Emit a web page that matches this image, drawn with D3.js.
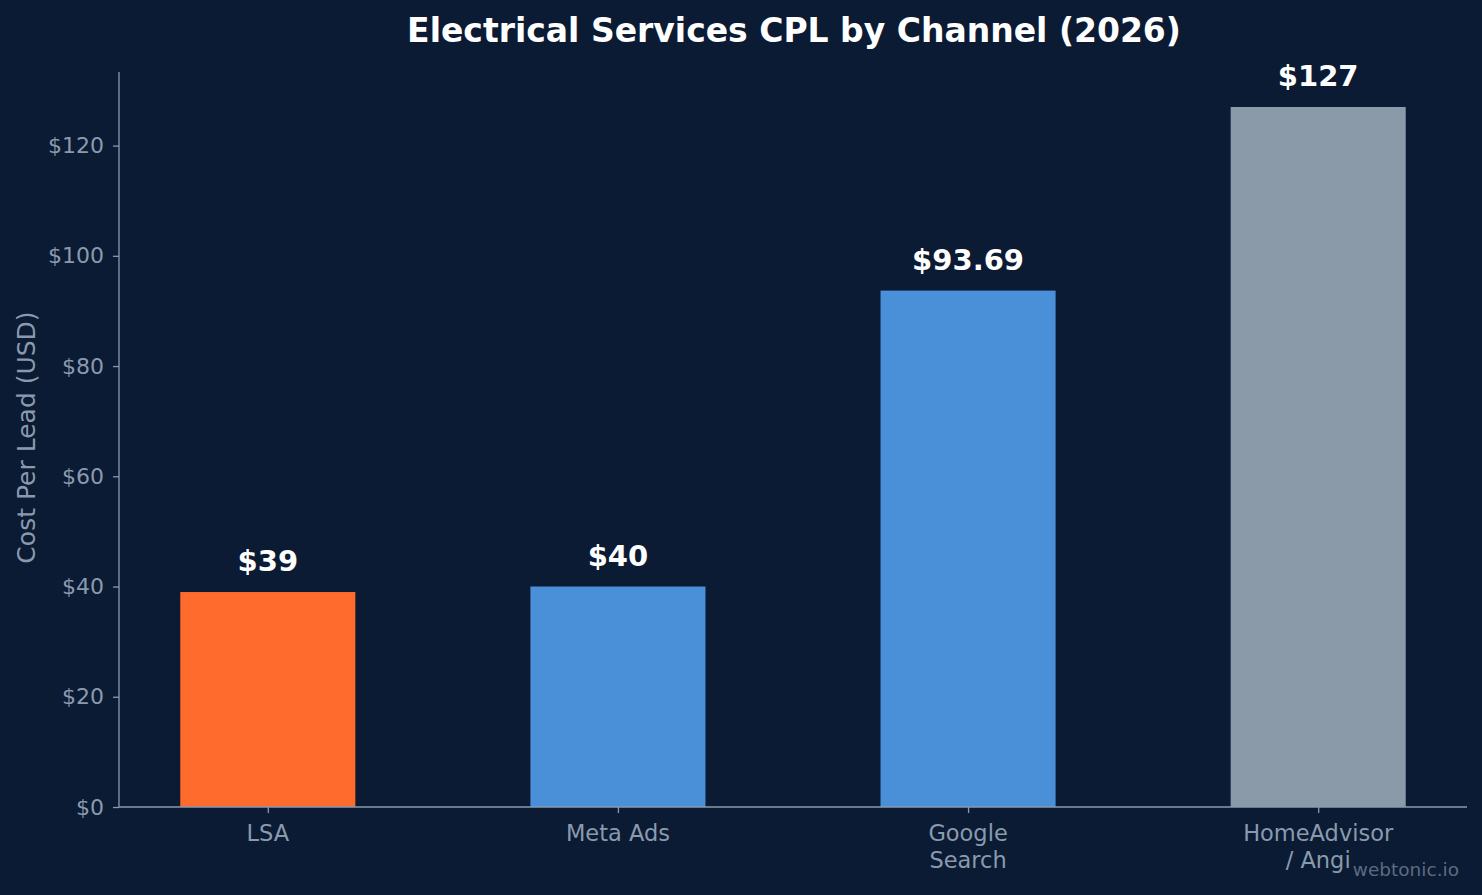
<!DOCTYPE html>
<html>
<head>
<meta charset="utf-8">
<script src="https://cdn.jsdelivr.net/npm/d3@7"></script>
<style>
    body { margin: 0; background: #0b1b33; }
    svg { display: block; font-family: "DejaVu Sans", sans-serif; }
</style>
</head>
<body>
<svg width="1482" height="895"></svg>
<script>
let channels = ['LSA', 'Meta Ads', 'Google\nSearch', 'HomeAdvisor\n/ Angi']
let cpl = [39, 40, 93.69, 127]
let valueLabels = ['$39', '$40', '$93.69', '$127']
let barColors = ['#ff6b2c', '#4a90d9', '#4a90d9', '#8a9aa8']
let yTicks = [0, 20, 40, 60, 80, 100, 120]

let svg = d3.select('svg')
let axisColor = '#8a9aae'

let margin = { left: 119, right: 15, top: 72, bottom: 88 }
let width = svg.attr('width') - margin.left - margin.right
let height = svg.attr('height') - margin.top - margin.bottom

svg.append('rect')
    .attr('width', svg.attr('width'))
    .attr('height', svg.attr('height'))
    .attr('fill', '#0b1b33')

// matplotlib-like limits: bars -0.25..3.25, 5% margins
let pad = 0.175
let scale = {
    x: d3.scaleLinear().domain([-0.25 - pad, channels.length - 0.75 + pad]).range([0, width]),
    y: d3.scaleLinear().domain([0, d3.max(cpl) * 1.05]).range([height, 0])
}
let barW = scale.x(0.5) - scale.x(0)

let g = svg.append('g')
    .attr('transform', `translate(${margin.left}, ${margin.top})`)

// bars
g.selectAll('.bar')
    .data(cpl)
    .enter()
    .append('rect')
    .attr('class', 'bar')
    .attr('x', (d, i) => scale.x(i) - barW / 2)
    .attr('y', d => scale.y(d))
    .attr('width', barW)
    .attr('height', d => height - scale.y(d))
    .attr('fill', (d, i) => barColors[i])

// value labels
g.selectAll('.val')
    .data(cpl)
    .enter()
    .append('text')
    .attr('class', 'val')
    .attr('x', (d, i) => scale.x(i))
    .attr('y', d => scale.y(d) - 21)
    .attr('text-anchor', 'middle')
    .attr('fill', '#ffffff')
    .attr('font-weight', 'bold')
    .attr('font-size', 29)
    .text((d, i) => valueLabels[i])

// Y axis
let yAxis = g.append('g')
    .call(d3.axisLeft(scale.y).tickValues(yTicks).tickFormat(d => '$' + d).tickSize(6).tickPadding(9))
yAxis.select('.domain').attr('stroke', axisColor).attr('stroke-width', 1.3)
    .attr('d', `M0,${height}V0`)
yAxis.selectAll('.tick line').attr('stroke', axisColor).attr('stroke-width', 1.3)
yAxis.selectAll('.tick text').attr('fill', axisColor).attr('font-size', 22).attr('font-family', 'DejaVu Sans')

// X axis
let xAxis = g.append('g')
    .attr('transform', `translate(0,${height})`)
    .call(d3.axisBottom(scale.x).tickValues(d3.range(channels.length)).tickFormat('').tickSize(6))
xAxis.select('.domain').attr('stroke', axisColor).attr('stroke-width', 1.3)
    .attr('d', `M0,0H${width}`)
xAxis.selectAll('.tick line').attr('stroke', axisColor).attr('stroke-width', 1.3)

// X tick labels (multi-line)
channels.forEach((c, i) => {
    let t = g.append('text')
        .attr('x', scale.x(i))
        .attr('y', height + 34)
        .attr('text-anchor', 'middle')
        .attr('fill', axisColor)
        .attr('font-size', 22.5)
    c.split('\n').forEach((line, k) => {
        t.append('tspan')
            .attr('x', scale.x(i))
            .attr('dy', k === 0 ? 0 : 27)
            .text(line)
    })
})

// Y label
svg.append('text')
    .attr('x', -(margin.top + height / 2) + 2)
    .attr('y', 35)
    .attr('text-anchor', 'middle')
    .attr('transform', 'rotate(270)')
    .attr('fill', axisColor)
    .attr('font-size', 25)
    .text('Cost Per Lead (USD)')

// title
svg.append('text')
    .attr('x', 794)
    .attr('y', 42)
    .attr('text-anchor', 'middle')
    .attr('fill', '#ffffff')
    .attr('font-weight', 'bold')
    .attr('font-size', 33)
    .text('Electrical Services CPL by Channel (2026)')

// watermark
svg.append('text')
    .attr('x', 1459)
    .attr('y', 876)
    .attr('text-anchor', 'end')
    .attr('fill', '#5b6b82')
    .attr('font-size', 18.5)
    .text('webtonic.io')
</script>
</body>
</html>
